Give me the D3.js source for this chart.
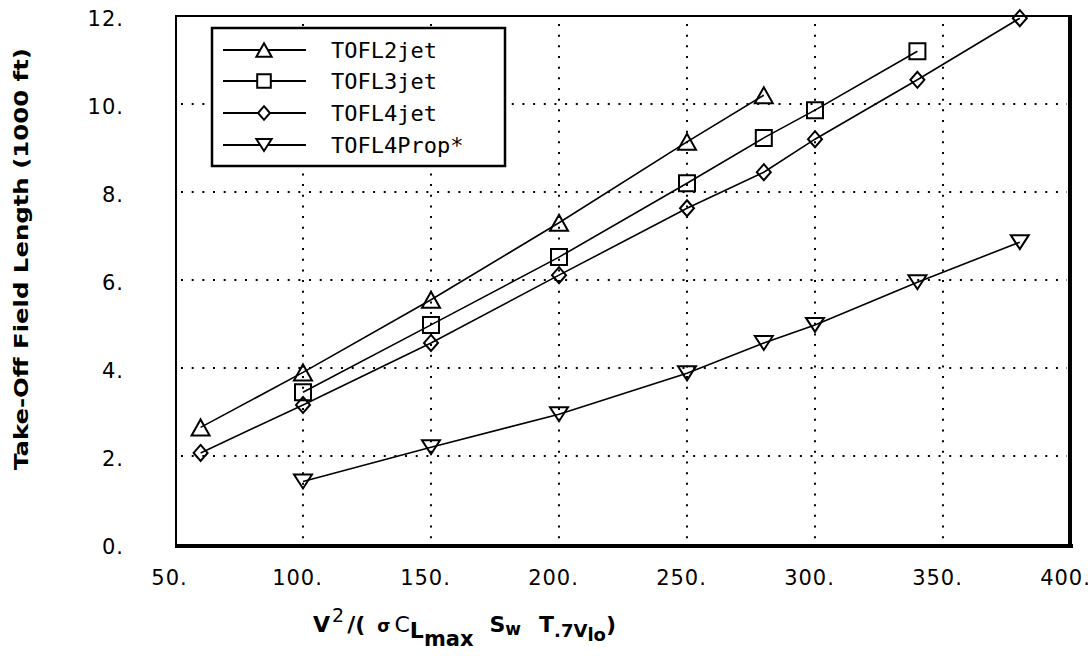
<!DOCTYPE html>
<html>
<head>
<meta charset="utf-8">
<script src="https://cdn.jsdelivr.net/npm/d3@7"></script>
<style>
  html, body { margin: 0; padding: 0; background: #fff; }
  svg { display: block; }
</style>
</head>
<body>
<div id="chart"></div>
<script>
// ---------- data ----------
const seriesNames = ["TOFL2jet", "TOFL3jet", "TOFL4jet", "TOFL4Prop*"];
const x2jet = [60, 100, 150, 200, 250, 280];
const y2jet = [2.65, 3.9, 5.55, 7.3, 9.14, 10.2];
const x3jet = [100, 150, 200, 250, 280, 300, 340];
const y3jet = [3.45, 4.98, 6.52, 8.2, 9.23, 9.86, 11.2];
const x4jet = [60, 100, 150, 200, 250, 280, 300, 340, 380];
const y4jet = [2.07, 3.16, 4.57, 6.11, 7.63, 8.45, 9.2, 10.55, 11.95];
const x4prop = [100, 150, 200, 250, 280, 300, 340, 380];
const y4prop = [1.42, 2.2, 2.95, 3.88, 4.57, 4.98, 5.95, 6.86];
const xTicks = [50, 100, 150, 200, 250, 300, 350, 400];
const yTicks = [0, 2, 4, 6, 8, 10, 12];
const yTitle = "Take-Off Field Length (1000 ft)";

// ---------- layout ----------
const W = 1091, H = 666;
const svg = d3.select("#chart").append("svg").attr("width", W).attr("height", H);

const x = d3.scaleLinear().domain([50, 400]).range([175, 1071]);
const y = d3.scaleLinear().domain([0, 12]).range([544, 16]);

// gridlines (dotted)
const grid = svg.append("g").attr("stroke", "#000").attr("stroke-width", 2)
  .attr("stroke-dasharray", "2 8.67");
grid.selectAll("line.h").data(yTicks.slice(1, -1)).join("line")
  .attr("x1", x(50) + 6).attr("x2", x(400) - 4)
  .attr("y1", d => y(d)).attr("y2", d => y(d));
grid.selectAll("line.v").data(xTicks.slice(1, -1)).join("line")
  .attr("y1", y(12) + 8).attr("y2", y(0))
  .attr("x1", d => x(d)).attr("x2", d => x(d));

// frame: thin top/left, thick bottom/right
svg.append("rect").attr("x", x(50) + 1).attr("y", y(12)).attr("width", x(400) - x(50) - 1)
  .attr("height", y(0) - y(12) + 1).attr("fill", "none").attr("stroke", "#000").attr("stroke-width", 2);
svg.append("line").attr("x1", x(50)).attr("x2", x(400) + 2).attr("y1", y(0) + 2).attr("y2", y(0) + 2)
  .attr("stroke", "#000").attr("stroke-width", 4);
svg.append("line").attr("x1", x(400) - 1).attr("x2", x(400) - 1).attr("y1", y(12) - 1).attr("y2", y(0) + 4)
  .attr("stroke", "#000").attr("stroke-width", 4);

// axes tick labels
const xAxis = d3.axisBottom(x).tickValues(xTicks).tickSize(0).tickFormat(d => d + ".");
const gx = svg.append("g").attr("transform", `translate(0,${y(0)})`).call(xAxis);
gx.select(".domain").remove();
gx.selectAll("text").attr("dy", null).attr("y", 41).attr("dx", -6)
  .attr("font-family", "DejaVu Sans").attr("font-size", 21).attr("letter-spacing", "1px").attr("fill", "#000");

const yAxis = d3.axisLeft(y).tickValues(yTicks).tickSize(0).tickFormat(d => d + ".");
const gy = svg.append("g").call(yAxis);
gy.select(".domain").remove();
gy.selectAll("text").attr("dy", null).attr("x", 124).attr("y", 9)
  .attr("font-family", "DejaVu Sans").attr("font-size", 21).attr("letter-spacing", "1px").attr("fill", "#000");

// y title
svg.append("text").attr("transform", "translate(28,259) rotate(-90)")
  .attr("text-anchor", "middle").attr("font-family", "DejaVu Sans").attr("font-weight", "bold")
  .attr("font-size", 20).attr("textLength", 422).attr("lengthAdjust", "spacingAndGlyphs").text(yTitle);

// x title
const xt = svg.append("text").attr("x", 313).attr("y", 632)
  .attr("font-family", "DejaVu Sans").attr("font-weight", "bold").attr("font-size", 22).attr("fill", "#000");
xt.append("tspan").text("V");
xt.append("tspan").attr("dy", -10).attr("dx", 2).attr("font-size", 19).attr("font-weight", "normal").text("2");
xt.append("tspan").attr("dy", 10).attr("dx", 3).text("/(");
xt.append("tspan").attr("dx", 12).attr("font-size", 17).text("σ");
xt.append("tspan").attr("dx", 4).attr("font-weight", "normal").text("C");
xt.append("tspan").attr("dy", 6).text("L");
xt.append("tspan").attr("dy", 8).attr("font-size", 21).text("max");
xt.append("tspan").attr("dy", -14).attr("dx", 16).text("S");
xt.append("tspan").attr("dy", 3).attr("font-size", 17).text("w");
xt.append("tspan").attr("dy", -3).attr("dx", 18).text("T");
xt.append("tspan").attr("dy", 5).attr("font-size", 18).text(".7V");
xt.append("tspan").attr("dy", 4).attr("font-size", 18).text("lo");
xt.append("tspan").attr("dy", -9).text(")");

// ---------- markers ----------
function markerPath(type, s) {
  const k = s || 1;
  if (type === 0) { // triangle up
    const w = 9 * k, h = 8 * k;
    return `M0,${-h}L${w},${h}L${-w},${h}Z`;
  }
  if (type === 1) { // square
    const a = 8 * k;
    return `M${-a},${-a}H${a}V${a}H${-a}Z`;
  }
  if (type === 2) { // diamond
    const w = 7 * k, h = 8 * k;
    return `M0,${-h}L${w},0L0,${h}L${-w},0Z`;
  }
  // triangle down
  const w = 9 * k, h = 7 * k;
  return `M${-w},${-h}H${w}L0,${h}Z`;
}

const series = [
  { name: seriesNames[0], xs: x2jet, ys: y2jet, m: 0 },
  { name: seriesNames[1], xs: x3jet, ys: y3jet, m: 1 },
  { name: seriesNames[2], xs: x4jet, ys: y4jet, m: 2 },
  { name: seriesNames[3], xs: x4prop, ys: y4prop, m: 3 }
];

const line = d3.line().x(d => x(d[0])).y(d => y(d[1]));
series.forEach(s => {
  const pts = s.xs.map((v, i) => [v, s.ys[i]]);
  svg.append("path").datum(pts).attr("d", line)
    .attr("fill", "none").attr("stroke", "#000").attr("stroke-width", 1.6);
  svg.append("g").selectAll("path").data(pts).join("path")
    .attr("transform", d => `translate(${x(d[0])},${y(d[1])})`)
    .attr("d", markerPath(s.m, 1))
    .attr("fill", "none").attr("stroke", "#000").attr("stroke-width", 2);
});

// ---------- legend ----------
const lg = svg.append("g");
lg.append("rect").attr("x", 212).attr("y", 28).attr("width", 293).attr("height", 138)
  .attr("fill", "#fff").attr("stroke", "#000").attr("stroke-width", 2.5);
const rowY = [50, 81, 113, 145];
series.forEach((s, i) => {
  lg.append("line").attr("x1", 223).attr("x2", 306).attr("y1", rowY[i]).attr("y2", rowY[i])
    .attr("stroke", "#000").attr("stroke-width", 2);
  lg.append("path").attr("transform", `translate(264,${rowY[i]})`).attr("d", markerPath(s.m, 0.85))
    .attr("fill", "#fff").attr("stroke", "#000").attr("stroke-width", 2);
  lg.append("text").attr("x", 331).attr("y", rowY[i] + 8)
    .attr("font-family", "DejaVu Sans Mono").attr("font-size", 22)
    .attr("fill", "#000").text(s.name);
});
</script>
</body>
</html>
